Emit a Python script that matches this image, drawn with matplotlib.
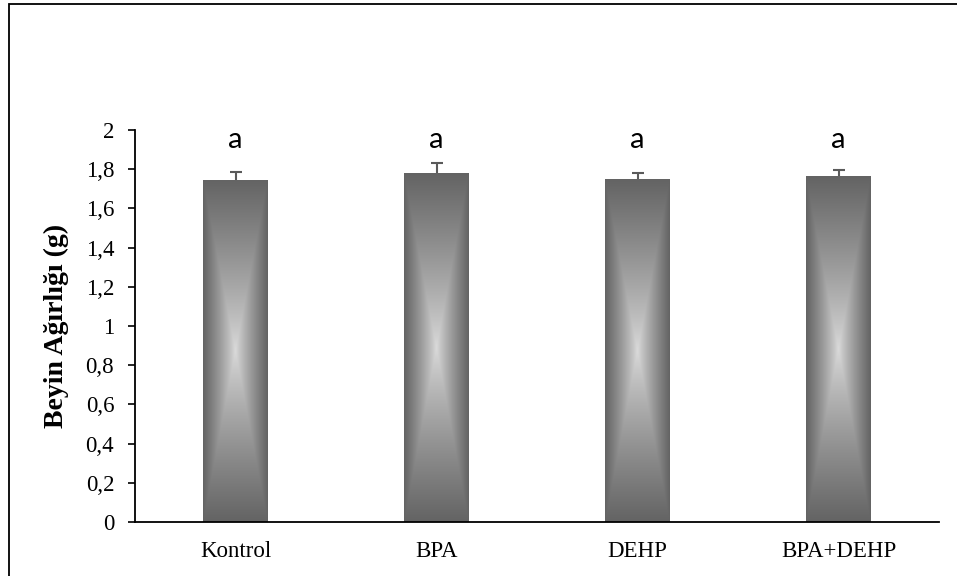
import numpy as np
import matplotlib
matplotlib.use('Agg')
import matplotlib.pyplot as plt
from matplotlib.patches import Rectangle

# --- data ---
groups = ["Kontrol", "BPA", "DEHP", "BPA+DEHP"]
weights = [1.745, 1.78, 1.75, 1.765]
errors = [0.04, 0.05, 0.03, 0.03]
letters = ["a", "a", "a", "a"]
ytick_vals = [0, 0.2, 0.4, 0.6, 0.8, 1.0, 1.2, 1.4, 1.6, 1.8, 2.0]
ytick_labels = ["0", "0,2", "0,4", "0,6", "0,8", "1", "1,2", "1,4", "1,6", "1,8", "2"]

SERIF = ["Liberation Serif", "DejaVu Serif"]
DARK = 0.39
LIGHT = 0.86


def gradient_img(nx=80, ny=300):
    # rectangular gradient from the centre, dark at the edges
    u = np.abs(np.linspace(-1, 1, nx))
    v = np.abs(np.linspace(-1, 1, ny))
    t = np.maximum(u[None, :], v[:, None])
    g = LIGHT + (DARK - LIGHT) * t ** 0.85
    return np.dstack([g, g, g])


fig = plt.figure(figsize=(9.57, 5.76), dpi=100)
ax = fig.add_axes([135 / 957, 54 / 576, 804 / 957, 392 / 576])

x = np.arange(len(groups))
bars = ax.bar(x, weights, width=0.32, color="none", edgecolor="none", zorder=2)

img = gradient_img()
for b in bars:
    x0, w, h = b.get_x(), b.get_width(), b.get_height()
    im = ax.imshow(img, extent=(x0, x0 + w, 0, h), aspect="auto",
                   interpolation="bilinear", zorder=2)
    im.set_clip_path(b)

# upper error bars only
line, caps, barlines = ax.errorbar(x, weights, yerr=[np.zeros(len(x)), errors],
                                   fmt="none", ecolor="#5a5a5a", elinewidth=1.5,
                                   capsize=4.3, capthick=1.5, zorder=3)
caps[0].set_visible(False)

for xi, lab in zip(x, letters):
    ax.text(xi, 1.948, lab, ha="center", va="center", fontsize=21,
            family=["Lato", "DejaVu Sans"])

ax.set_xlim(-0.5, len(groups) - 0.5)
ax.set_ylim(0, 2)
ax.set_xticks(x)
ax.set_xticklabels(groups, family=SERIF, fontsize=16.5)
ax.set_yticks(ytick_vals)
ax.set_yticklabels(ytick_labels, family=SERIF, fontsize=16.5)
ax.tick_params(axis="x", length=0, pad=14)
ax.tick_params(axis="y", direction="out", length=5, width=1.2, pad=10)

for side in ["top", "right"]:
    ax.spines[side].set_visible(False)
for side in ["left", "bottom"]:
    ax.spines[side].set_linewidth(1.3)

ax.set_ylabel("Beyin Ağırlığı (g)", family=SERIF, fontsize=20,
              fontweight="bold", labelpad=12)

# outer chart frame (only left and top edges fall inside the picture)
fig.patches.append(Rectangle((9 / 957, -0.1), 1.0, 1.1 - 4 / 576,
                             transform=fig.transFigure, fill=False,
                             edgecolor="black", linewidth=1.3))

fig.savefig("out.png", dpi=100)
